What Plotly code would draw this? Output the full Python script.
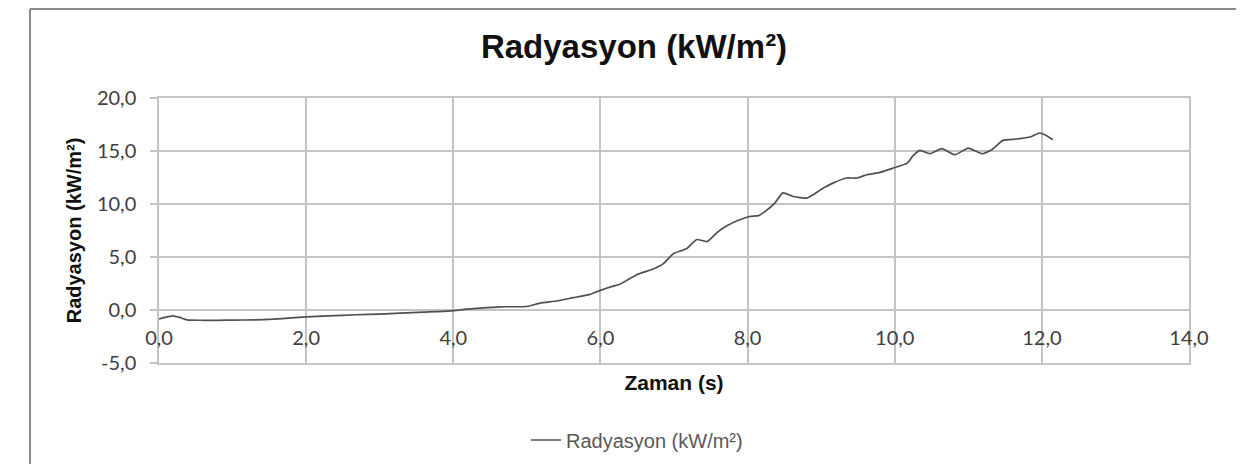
import plotly.graph_objects as go

# ---- data ----
time_s = [0.0, 0.08, 0.19, 0.28, 0.38, 0.6, 0.8, 1.0, 1.3, 1.55, 1.8, 2.0, 2.3, 2.69,
          3.0, 3.28, 3.6, 3.96, 4.18, 4.32, 4.63, 5.0, 5.18, 5.4, 5.63, 5.85, 6.0, 6.15,
          6.27, 6.36, 6.5, 6.71, 6.85, 6.99, 7.1, 7.18, 7.31, 7.45, 7.6, 7.72, 7.85,
          8.03, 8.15, 8.24, 8.37, 8.48, 8.62, 8.81, 8.89, 9.03, 9.16, 9.35, 9.49, 9.62,
          9.80, 9.98, 10.17, 10.25, 10.34, 10.48, 10.64, 10.82, 11.0, 11.19, 11.32,
          11.47, 11.66, 11.84, 11.97, 12.04, 12.15]
radiation = [-0.85, -0.7, -0.55, -0.7, -0.93, -0.97, -0.97, -0.95, -0.93, -0.87, -0.75,
             -0.65, -0.55, -0.45, -0.38, -0.3, -0.2, -0.08, 0.08, 0.15, 0.3, 0.33, 0.65,
             0.85, 1.16, 1.45, 1.85, 2.2, 2.45, 2.8, 3.35, 3.85, 4.35, 5.3, 5.6, 5.83,
             6.65, 6.45, 7.4, 7.95, 8.4, 8.82, 8.9, 9.3, 10.08, 11.05, 10.71, 10.56,
             10.87, 11.5, 11.97, 12.45, 12.45, 12.76, 12.98, 13.39, 13.86, 14.56, 15.06,
             14.74, 15.22, 14.65, 15.28, 14.74, 15.12, 16.0, 16.13, 16.32, 16.7, 16.54,
             16.07]

x_ticks = [0, 2, 4, 6, 8, 10, 12, 14]
x_tick_labels = ["0,0", "2,0", "4,0", "6,0", "8,0", "10,0", "12,0", "14,0"]
y_ticks = [-5, 0, 5, 10, 15, 20]
y_tick_labels = ["-5,0", "0,0", "5,0", "10,0", "15,0", "20,0"]

series_name = "Radyasyon (kW/m²)"
title_text = "Radyasyon (kW/m²)"
x_title = "Zaman (s)"
y_title = "Radyasyon (kW/m²)"

GRID = "#c4c4c4"
TICKFONT = dict(family="Lato", size=20, color="#404040")

# page body adds an 8px offset; convert screen pixels to figure pixels
OFF = 8
W, H = 1249, 464
L = 159 - OFF
T = 98 - OFF
R = W - (1189 - OFF)
B = H - (363 - OFF)
pw, ph = W - L - R, H - T - B


def px_x(p):
    return (p - OFF - L) / pw


def px_y(p):
    return (H - B - (p - OFF)) / ph


fig = go.Figure()
fig.add_trace(go.Scatter(
    x=time_s, y=radiation, mode="lines", name=series_name,
    line=dict(color="#505050", width=1.7, shape="spline", smoothing=0.5),
))

fig.update_layout(
    width=W, height=H,
    margin=dict(l=L, r=R, t=T, b=B),
    paper_bgcolor="white", plot_bgcolor="white",
    title=dict(text=title_text, x=(634 - OFF) / W, xref="container", xanchor="center",
               y=1 - (46 - OFF) / H, yref="container", yanchor="middle",
               font=dict(family="Liberation Sans", size=33, color="#111111", weight="bold")),
    xaxis=dict(range=[0, 14], tickvals=x_ticks, showticklabels=False,
               showgrid=True, gridcolor=GRID, gridwidth=1.5, zeroline=False,
               showline=True, mirror=True, linecolor=GRID, linewidth=1.5, ticks="",
               title=dict(text=x_title, standoff=12,
                          font=dict(family="Liberation Sans", size=21, color="#111111",
                                    weight="bold"))),
    xaxis2=dict(range=[0, 14], tickvals=x_ticks, ticktext=x_tick_labels,
                overlaying="x", anchor="free", position=0.2, side="bottom",
                showgrid=False, zeroline=False, showline=False, ticks="",
                ticklabelstandoff=14, tickfont=TICKFONT),
    yaxis=dict(range=[-5, 20], tickvals=y_ticks, ticktext=y_tick_labels,
               showgrid=True, gridcolor=GRID, gridwidth=1.5, zeroline=False,
               showline=True, mirror=True, linecolor=GRID, linewidth=1.5,
               ticks="outside", ticklen=7, tickcolor=GRID, tickwidth=1.5,
               ticklabelstandoff=10, tickfont=TICKFONT,
               title=dict(text=y_title, standoff=10,
                          font=dict(family="Liberation Sans", size=20, color="#111111",
                                    weight="bold"))),
    showlegend=True,
    legend=dict(orientation="h", x=px_x(637), xanchor="center", y=px_y(440),
                yanchor="middle", font=dict(family="Liberation Sans", size=20,
                                            color="#595959"),
                bgcolor="rgba(0,0,0,0)"),
    shapes=[
        dict(type="line", xref="paper", yref="paper", x0=px_x(30), x1=px_x(30),
             y0=px_y(480), y1=px_y(9), line=dict(color="#8a8a8a", width=2)),
        dict(type="line", xref="paper", yref="paper", x0=px_x(30), x1=px_x(1236),
             y0=px_y(9), y1=px_y(9), line=dict(color="#8a8a8a", width=2)),
    ],
)

# invisible helper trace so the overlaid x-axis (tick labels along y=0) renders
fig.add_trace(go.Scatter(x=[0, 14], y=[None, None], xaxis="x2", showlegend=False,
                         hoverinfo="skip", mode="lines"))

fig.write_html("out.html")
